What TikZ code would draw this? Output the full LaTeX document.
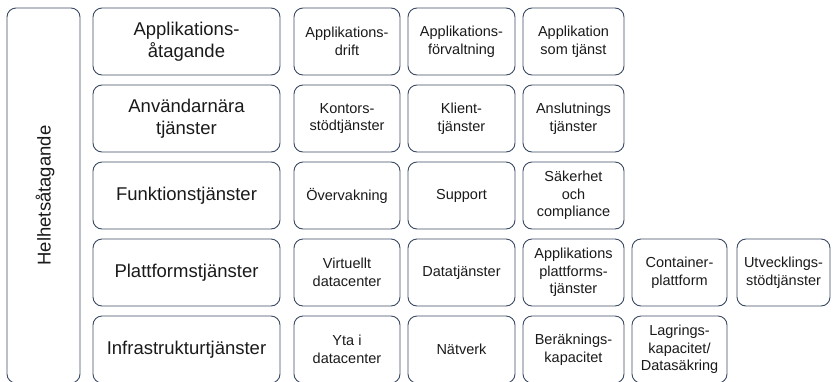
\documentclass[tikz,border=0pt]{standalone}
\usepackage{fontspec}
\setmainfont{Liberation Sans}
\definecolor{edge}{HTML}{3B4A63}
\definecolor{ink}{HTML}{1A1A1A}
\begin{document}
\begin{tikzpicture}[x=1pt,y=-1pt,
  box/.style={draw=edge, line width=0.9pt, rounded corners=9pt, rectangle, inner sep=2pt, align=center, text=ink, minimum height=67pt},
  bigbox/.style={box, font=\fontsize{18.5}{22}\selectfont, minimum width=187pt},
  sbox/.style={box, font=\fontsize{14.5}{17.5}\selectfont}
]
\useasboundingbox (0,0) rectangle (833,381);
\clip (0,0) rectangle (833,381);
% left tall box
\node[box, minimum width=73pt, minimum height=375pt] (whole) at (43.5,195.5) {};
\node[rotate=90, font=\fontsize{18.5}{22}\selectfont, text=ink] (wholet) at (45,195.5) {Helhetsåtagande};
% categories
\node[bigbox] (cat1) at (186.5,41.5) {Applikations-\\åtagande};
\node[bigbox] (cat2) at (186.5,118.5) {Användarnära\\tjänster};
\node[bigbox] (cat3) at (186.5,195.5) {Funktionstjänster};
\node[bigbox] (cat4) at (186.5,272.5) {Plattformstjänster};
\node[bigbox] (cat5) at (186.5,349.5) {Infrastrukturtjänster};
% row 1
\node[sbox, minimum width=106pt] (a1) at (347,41.5) {Applikations-\\drift};
\node[sbox, minimum width=107pt] (a2) at (461.5,41.5) {Applikations-\\förvaltning};
\node[sbox, minimum width=101pt] (a3) at (573.5,41.5) {Applikation\\som tjänst};
% row 2
\node[sbox, minimum width=106pt] (b1) at (347,118.5) {Kontors-\\stödtjänster};
\node[sbox, minimum width=107pt] (b2) at (461.5,118.5) {Klient-\\tjänster};
\node[sbox, minimum width=101pt] (b3) at (573.5,118.5) {Anslutnings\\tjänster};
% row 3
\node[sbox, minimum width=106pt] (c1) at (347,195.5) {Övervakning};
\node[sbox, minimum width=107pt] (c2) at (461.5,195.5) {Support};
\node[sbox, minimum width=101pt] (c3) at (573.5,195.5) {Säkerhet\\och\\compliance};
% row 4
\node[sbox, minimum width=106pt] (d1) at (347,272.5) {Virtuellt\\datacenter};
\node[sbox, minimum width=107pt] (d2) at (461.5,272.5) {Datatjänster};
\node[sbox, minimum width=101pt] (d3) at (573.5,272.5) {Applikations\\plattforms-\\tjänster};
\node[sbox, minimum width=95pt] (d4) at (679.5,272.5) {Container-\\plattform};
\node[sbox, minimum width=93pt] (d5) at (783.5,272.5) {Utvecklings-\\stödtjänster};
% row 5
\node[sbox, minimum width=106pt] (e1) at (347,349.5) {Yta i\\datacenter};
\node[sbox, minimum width=107pt] (e2) at (461.5,349.5) {Nätverk};
\node[sbox, minimum width=101pt] (e3) at (573.5,349.5) {Beräknings-\\kapacitet};
\node[sbox, minimum width=95pt] (e4) at (679.5,349.5) {Lagrings-\\kapacitet/\\Datasäkring};
\end{tikzpicture}
\end{document}
